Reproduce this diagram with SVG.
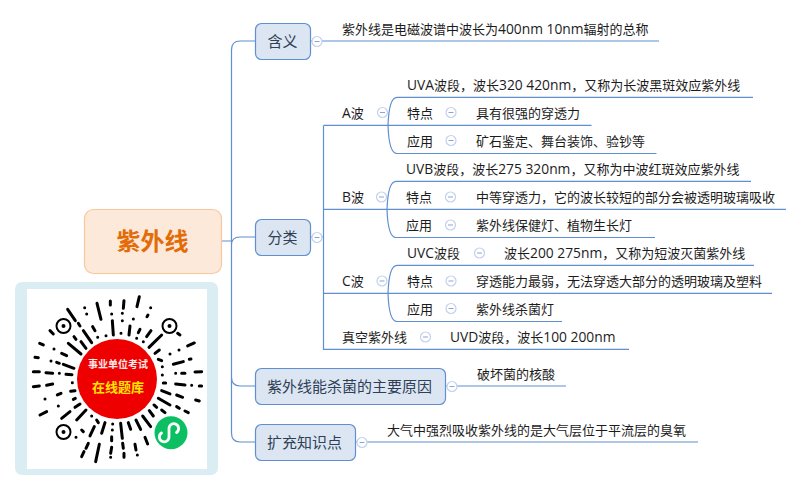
<svg xmlns="http://www.w3.org/2000/svg" width="802" height="491" viewBox="0 0 802 491">
<style>
text{font-family:"Open Sans","Noto Sans CJK SC",sans-serif;font-size:13px;fill:#1c1c1c}
.l{font-size:13.800px}
.c{fill:none;stroke:#5f8fd0;stroke-width:1.2}
.box rect{fill:#dce6f2;stroke:#5f8fd0;stroke-width:1.2}
.box text{font-size:15px;fill:#2f3f56}
.fold circle{fill:#fff;stroke:#c3d0ee;stroke-width:1.2}
.fold path{stroke:#8ea3d4;stroke-width:1;fill:none}
.qr{fill:none;stroke:#000;stroke-width:9;stroke-linecap:round}
</style>
<defs>
<g id="f" class="fold"><circle r="5"/><path d="M-2.500 0H2.500"/></g>
</defs>
<rect width="802" height="491" fill="#fff"/>
<g id="connectors">
<path class="c" d="M222 241H231.500M255 41H240Q231.500 41 231.500 50V433Q231.500 442 240 442H255M231.500 245Q231.500 237 240 237H255M231.500 377Q231.500 386 240 386H255"/>
<path class="c" d="M311 41H659M311 237H323.500M323.500 125.400V349.400H629M323.500 125.400H388M323.500 209.400H387M323.500 293.400H388"/>
<path class="c" d="M397 97.400H753M388 125.400H591.500M397 153.500H656.500M397 97.400Q389 97.400 388 125.400Q389 153.500 397 153.500"/>
<path class="c" d="M396 181.400H751M387 209.400H786M396 237.500H655M396 181.400Q388 181.400 387 209.400Q388 237.500 396 237.500"/>
<path class="c" d="M397 265.400H754M388 293.400H772M397 321.500H562M397 265.400Q389 265.400 388 293.400Q389 321.500 397 321.500"/>
<path class="c" d="M446 386H566M356 442H698"/>
</g>
<g id="root"><rect x="84.500" y="209.500" width="137" height="64" rx="9" fill="#fde9d9" stroke="#f8c79b" stroke-width="1.200"/><text x="152.500" y="250" text-anchor="middle" style="font-size:24px;font-weight:700;fill:#e36c09">紫外线</text></g>
<g id="n-hanyi" class="box"><rect x="255.500" y="23.500" width="55" height="36" rx="6"/><text x="282.500" y="46.500" text-anchor="middle">含义</text></g>
<use href="#f" x="317" y="41.500"/>
<g id="n-hanyi-t"><text x="342" y="34">紫外线是电磁波谱中波长为<tspan class="l">400nm 10nm</tspan>辐射的总称</text></g>
<g id="n-fenlei" class="box"><rect x="255.500" y="219.500" width="55" height="36" rx="6"/><text x="282.500" y="242.500" text-anchor="middle">分类</text></g>
<use href="#f" x="317" y="237.500"/>
<g id="n-a"><text x="342" y="117.500"><tspan class="l">A</tspan>波</text><use href="#f" x="382.500" y="112.500"/></g>
<g id="n-a0"><text x="407" y="89.500"><tspan class="l">UVA</tspan>波段，波长<tspan class="l">320 420nm</tspan>，又称为长波黑斑效应紫外线</text></g>
<g id="n-a1"><text x="407" y="117.500">特点</text><use href="#f" x="451" y="112.500"/><text x="476" y="117.500">具有很强的穿透力</text></g>
<g id="n-a2"><text x="407" y="145.500">应用</text><use href="#f" x="451" y="140.500"/><text x="476" y="145.500">矿石鉴定、舞台装饰、验钞等</text></g>
<g id="n-b"><text x="342" y="201.500"><tspan class="l">B</tspan>波</text><use href="#f" x="381.500" y="197"/></g>
<g id="n-b0"><text x="406" y="173.500"><tspan class="l">UVB</tspan>波段，波长<tspan class="l">275 320nm</tspan>，又称为中波红斑效应紫外线</text></g>
<g id="n-b1"><text x="406" y="201.500">特点</text><use href="#f" x="450.500" y="197"/><text x="476" y="201.500">中等穿透力，它的波长较短的部分会被透明玻璃吸收</text></g>
<g id="n-b2"><text x="406" y="229.500">应用</text><use href="#f" x="450.500" y="225"/><text x="476" y="229.500">紫外线保健灯、植物生长灯</text></g>
<g id="n-c"><text x="342" y="285.500"><tspan class="l">C</tspan>波</text><use href="#f" x="382" y="281"/></g>
<g id="n-c0"><text x="407" y="257.500"><tspan class="l">UVC</tspan>波段</text><use href="#f" x="479.500" y="253"/><text x="504" y="257.500">波长<tspan class="l">200 275nm</tspan>，又称为短波灭菌紫外线</text></g>
<g id="n-c1"><text x="407" y="285.500">特点</text><use href="#f" x="451" y="281"/><text x="476" y="285.500">穿透能力最弱，无法穿透大部分的透明玻璃及塑料</text></g>
<g id="n-c2"><text x="407" y="313.500">应用</text><use href="#f" x="451" y="308.500"/><text x="476" y="313.500">紫外线杀菌灯</text></g>
<g id="n-d"><text x="342" y="341.500">真空紫外线</text><use href="#f" x="425.500" y="337"/><text x="450" y="341.500"><tspan class="l">UVD</tspan>波段，波长<tspan class="l">100 200nm</tspan></text></g>
<g id="n-why" class="box"><rect x="255.500" y="368.500" width="190" height="36" rx="6"/><text x="267" y="391.500">紫外线能杀菌的主要原因</text></g>
<use href="#f" x="452" y="386.500"/>
<g id="n-why-t"><text x="477" y="378.500">破坏菌的核酸</text></g>
<g id="n-more" class="box"><rect x="255.500" y="424.500" width="100" height="36" rx="6"/><text x="267" y="447.500">扩充知识点</text></g>
<use href="#f" x="362" y="442.500"/>
<g id="n-more-t"><text x="387" y="434.500">大气中强烈吸收紫外线的是大气层位于平流层的臭氧</text></g>
<g id="qrcode">
<rect x="15" y="282" width="203" height="193" rx="7" fill="#daedf3"/>
<rect x="27" y="289" width="180" height="180" fill="#fff"/>
<g transform="translate(0 200) scale(.3333)">
<path class="qr" d="M203 328L226 362M254 323h.1M260 342h.1M291 310L303 358M331 303V315M372 302L370 325M418 290L411 320M452 323h.1M441 350L444 345M150 392L160 402M235 370L240 378M278 380L285 392M250 392L275 428M335 342h.1M367 340h.1M400 357h.1M367 362h.1M337 362L340 405M390 378L387 405M420 388L415 398M453 392L440 410M485 405L447 442M540 405L533 400M119 430L130 435M162 447h.1M205 430L243 462M222 410L228 418M243 425L258 445M293 412h.1M318 407h.1M363 400h.1M410 415h.1M430 425h.1M583 429L563 438M537 450h.1M510 462h.1M478 450L465 460M105 472L115 473M153 483h.1M185 460L200 467M170 487L178 490M190 493L222 505M475 478L485 482M520 493L550 485M573 477L568 478M487 500h.1M100 515H118M138 518L158 520M178 520h.1M198 523L216 524M487 525h.1M527 520h.1M545 520H555M585 516L605 515M100 560L118 558M140 556L158 552M217 548h.1M490 549H497M527 552L555 555M575 556h.1M598 558H605M172 585L183 580M212 574L225 572M135 597h.1M485 572L510 582M530 585L548 592M587 600L598 603M120 645L140 635M175 618h.1M220 598L226 595M185 655L210 635M225 622L240 612M230 660L258 630M475 595L510 615M530 620L538 625M555 633L565 638M462 615L470 622M448 632L460 648M485 630L495 638M428 648L452 680M408 660L422 688M385 668L392 688M275 648h.1M290 660L295 668M245 690L250 695M228 712h.1M283 680L270 708M315 668L305 700M338 672h.1M337 690h.1M335 710V722M362 670L367 715M265 730L258 745M245 770L252 755M298 733L287 785M335 742L332 760M332 772h.1M368 730L370 745M372 760V772M405 733L408 750M412 765h.1M435 712L443 732"/>
</g>
<g fill="none" stroke="#000" stroke-width="2"><circle cx="63.500" cy="326" r="7"/><circle cx="169.500" cy="326" r="7"/><circle cx="63.500" cy="432" r="7"/></g>
<g fill="#000"><circle cx="63.500" cy="326" r="2"/><circle cx="169.500" cy="326" r="2"/><circle cx="63.500" cy="432" r="2"/></g>
<circle cx="117" cy="379" r="40" fill="#ee0000"/>
<text x="118" y="368" text-anchor="middle" style="font-size:10px;font-weight:700;fill:#fde8e8">事业单位考试</text>
<text x="118" y="392" text-anchor="middle" style="font-size:13px;font-weight:700;fill:#ffe600">在线题库</text>
<circle cx="171" cy="432.700" r="16.500" fill="#0bbf62"/>
<path d="M161.500 433A4.800 4.800 0 1 0 169 437V428.500A4.800 4.800 0 1 1 176.500 432.500" fill="none" stroke="#fff" stroke-width="2.800" stroke-linecap="round"/>
</g>
</svg>
